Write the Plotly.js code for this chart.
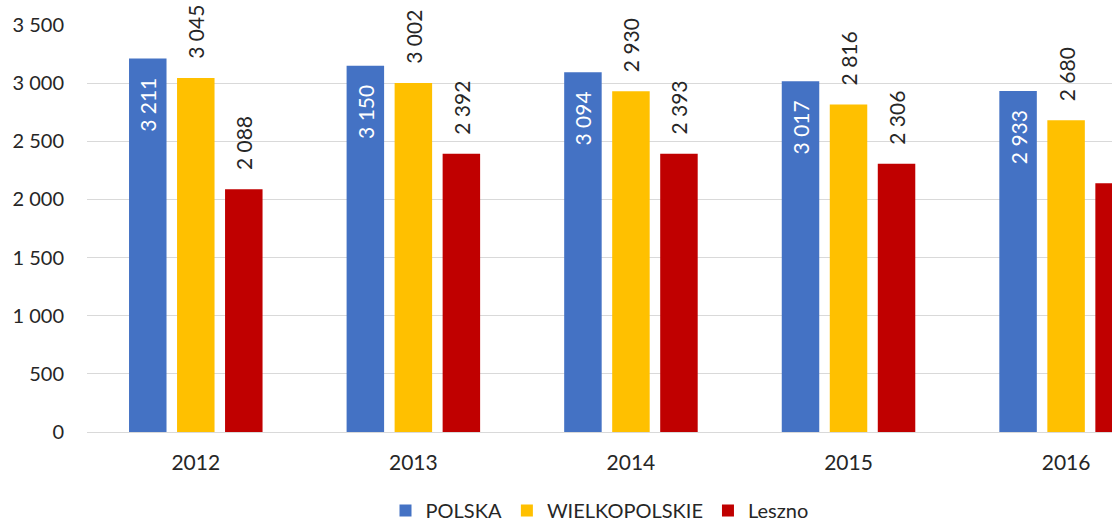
<!DOCTYPE html>
<html>
<head>
<meta charset="utf-8">
<script src="https://cdn.plot.ly/plotly-3.0.1.min.js"></script>
<style>
html, body { margin: 0; padding: 0; background: #fff; overflow: hidden; }
#chart { width: 1112px; height: 524px; }
</style>
</head>
<body>
<div id="chart"></div>
<script>
const years = ['2012', '2013', '2014', '2015', '2016'];
const polska = [3211, 3150, 3094, 3017, 2933];
const wielkopolskie = [3045, 3002, 2930, 2816, 2680];
const leszno = [2088, 2392, 2393, 2306, 2139];
const seriesNames = ['POLSKA', 'WIELKOPOLSKIE', 'Leszno'];

const NB = '\u00a0';
function fmt(v) {
  return String(v).replace(/\B(?=(\d{3})+(?!\d))/g, ' ');
}
const FONT = 'Lato, Carlito, Calibri, sans-serif';

const traces = [
  {
    type: 'bar', name: seriesNames[0], x: years, y: polska,
    marker: { color: '#4472C4' },
    text: polska.map(v => fmt(v) + NB + NB + NB),
    textposition: 'inside', insidetextanchor: 'end', textangle: -90,
    constraintext: 'none',
    textfont: { family: FONT, size: 21, color: '#ffffff' },
    cliponaxis: false, hoverinfo: 'none'
  },
  {
    type: 'bar', name: seriesNames[1], x: years, y: wielkopolskie,
    marker: { color: '#FFC000' },
    text: wielkopolskie.map(v => NB + NB + NB + fmt(v)),
    textposition: 'outside', textangle: -90,
    constraintext: 'none',
    textfont: { family: FONT, size: 21, color: '#262626' },
    cliponaxis: false, hoverinfo: 'none'
  },
  {
    type: 'bar', name: seriesNames[2], x: years, y: leszno,
    marker: { color: '#C00000' },
    text: leszno.map(v => NB + NB + NB + fmt(v)),
    textposition: 'outside', textangle: -90,
    constraintext: 'none',
    textfont: { family: FONT, size: 21, color: '#262626' },
    cliponaxis: false, hoverinfo: 'none'
  }
];

const layout = {
  width: 1112, height: 524,
  margin: { l: 87, r: 0, t: 25, b: 92, pad: 0, autoexpand: false },
  paper_bgcolor: '#ffffff', plot_bgcolor: '#ffffff',
  separators: ', ',
  font: { family: FONT, size: 20, color: '#262626' },
  barmode: 'group', bargap: 0.338, bargroupgap: 0.219,
  showlegend: true,
  legend: {
    orientation: 'h', x: 0.5, xanchor: 'center', y: -0.145, yanchor: 'top',
    font: { family: FONT, size: 20, color: '#262626' },
    traceorder: 'normal'
  },
  xaxis: {
    type: 'category', range: [-0.5, 4.211],
    showgrid: false, showline: true, linecolor: '#d9d9d9', linewidth: 1,
    ticks: '', tickfont: { family: FONT, size: 21, color: '#262626' },
    ticklabelstandoff: 12, fixedrange: true
  },
  yaxis: {
    range: [0, 3500], dtick: 500, tick0: 0, tickformat: ',d',
    showgrid: true, gridcolor: '#d9d9d9', gridwidth: 1,
    zeroline: false, showline: false, ticks: '',
    tickfont: { family: FONT, size: 20, color: '#262626' },
    ticklabelstandoff: 22, fixedrange: true
  }
};

Plotly.newPlot('chart', traces, layout, { displayModeBar: false, staticPlot: true });
</script>
</body>
</html>
